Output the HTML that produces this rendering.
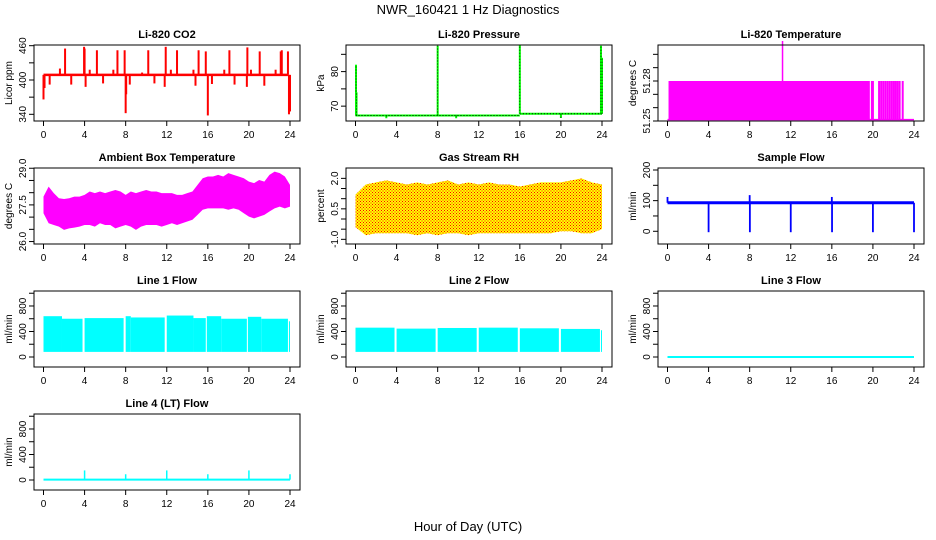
<!DOCTYPE html>
<html><head><meta charset="utf-8"><style>
body{margin:0;background:#fff;}
svg{display:block;font-family:"Liberation Sans",sans-serif;}
</style></head><body>
<svg id="chart" width="936" height="540" viewBox="0 0 936 540" xmlns="http://www.w3.org/2000/svg">
<defs>
<pattern id="rhdots" width="3" height="3" patternUnits="userSpaceOnUse"><rect x="0" y="0" width="1" height="1" fill="#f00"/><rect x="1.5" y="1.5" width="1" height="1" fill="#f00"/></pattern>
</defs>
<text x="468" y="14" font-size="13" text-anchor="middle">NWR_160421  1 Hz Diagnostics</text>
<text x="468" y="531" font-size="13" text-anchor="middle">Hour of Day (UTC)</text>
</svg>
<script>
const hourTicks=[0,4,8,12,16,20,24];
// CO2
const co2Base=409;
const co2SpikeHours=[2.1,3.95,4.0,5.2,7.2,7.9,10.2,11.9,13.0,15.1,15.8,18.1,19.85,21.05,23.1,23.2,23.8,1.6,4.5,6.8,9.6,12.4,14.6,17.6,20.2,22.6,0.0,0.1,0.6,2.7,4.1,5.8,8.0,8.05,8.4,10.8,11.8,14.8,16.0,16.4,18.6,19.8,21.5,23.9,24.0];
const co2SpikeValues=[455,458,455,452,452,452,452,458,452,452,450,452,457,450,450,452,450,420,418,418,413,418,418,418,418,418,366,386,392,392,388,394,342,375,392,394,388,390,338,393,392,388,390,340,345];
// Pressure
const presSegHours=[0,16,16,24];
const presSegValues=[67.3,67.3,67.8,67.8];
const presSpikeHours=[0.05,0.1,8.0,16.0,23.9,24.0,3.0,9.8,20.0];
const presSpikeValues=[82,74,87.5,87.7,87.5,84,66.5,66.5,66.6];
// Li-820 temperature
const tempBlockStart=0.1, tempBlockEnd=19.7, tempHigh=51.28, tempLow=51.251;
const tempStripeHours=[19.9,20.0,20.6,20.8,21.0,21.2,21.4,21.6,21.8,22.0,22.2,22.4,22.6,22.9];
const tempSpikeHour=11.2, tempSpikeValue=51.31;
// Ambient temperature envelope (half-hourly)
const ambHours=[0,0.5,1,1.5,2,2.5,3,3.5,4,4.5,5,5.5,6,6.5,7,7.5,8,8.5,9,9.5,10,10.5,11,11.5,12,12.5,13,13.5,14,14.5,15,15.5,16,16.5,17,17.5,18,18.5,19,19.5,20,20.5,21,21.5,22,22.5,23,23.5,24];
const ambUpper=[27.84,28.25,27.98,27.77,27.74,27.77,27.84,27.84,27.91,28.05,27.98,28.05,27.98,28.05,28.11,28.05,27.91,28.05,27.98,28.05,28.11,28.05,28.05,27.98,27.98,27.98,27.91,27.91,27.98,28.05,28.32,28.59,28.66,28.66,28.73,28.66,28.80,28.73,28.66,28.59,28.45,28.39,28.52,28.45,28.73,28.86,28.80,28.66,28.32];
const ambLower=[27.16,26.75,26.68,26.61,26.48,26.54,26.57,26.61,26.68,26.68,26.61,26.75,26.68,26.68,26.54,26.61,26.68,26.61,26.48,26.61,26.68,26.68,26.68,26.61,26.68,26.75,26.68,26.75,26.82,26.89,27.09,27.30,27.36,27.36,27.36,27.36,27.30,27.36,27.30,27.16,27.02,26.95,27.02,27.09,27.23,27.36,27.43,27.36,27.43];
// RH envelope (hourly)
const rhHours=[0,1,2,3,4,5,6,7,8,9,10,11,12,13,14,15,16,17,18,19,20,21,22,23,24];
const rhUpper=[1.2,1.7,1.8,1.9,1.8,1.7,1.8,1.7,1.8,1.9,1.7,1.8,1.7,1.8,1.7,1.7,1.6,1.7,1.8,1.8,1.8,1.9,2.0,1.8,1.7];
const rhLower=[-0.4,-0.8,-0.7,-0.7,-0.7,-0.7,-0.8,-0.7,-0.8,-0.7,-0.7,-0.8,-0.7,-0.7,-0.7,-0.7,-0.7,-0.7,-0.7,-0.7,-0.6,-0.6,-0.7,-0.7,-0.5];
// Sample flow
const sfBase=93;
const sfSpikeHours=[0,4,8,8.02,12,16,16.02,20,24];
const sfSpikeValues=[112,-3,118,-3,-3,112,-3,-3,-3];
// Line flows: segments [start,end,top]
const l1Start=[0,1.8,4.0,8.0,8.5,12.0,14.6,15.9,17.3,19.9,21.2,23.9];
const l1End=[1.8,3.8,7.8,8.5,11.8,14.6,15.8,17.3,19.8,21.2,23.8,24.0];
const l1Top=[640,600,610,640,620,650,610,640,600,630,600,560];
const l1Bottom=80;
const l2Start=[0,4.0,8.0,12.0,16.0,20.0,23.9];
const l2End=[3.8,7.8,11.8,15.8,19.8,23.8,24.0];
const l2Top=[460,445,455,460,450,440,420];
const l2Bottom=80;
const l3Value=0;
const l4Base=5;
const l4SpikeHours=[4,8,12,16,20,24];
const l4SpikeValues=[150,90,150,90,150,90];

const NS="http://www.w3.org/2000/svg";
const svg=document.getElementById('chart');
function el(tag,attrs,parent){const e=document.createElementNS(NS,tag);for(const k in attrs)e.setAttribute(k,attrs[k]);(parent||svg).appendChild(e);return e;}

function panel(col,row,title,ylab,ylo,yhi,ticks,labels,name){
  const x0=34+312*col,x1=x0+266,y0=45+123*row,y1=y0+76;
  const g=el('g',{});
  
  
  const X=h=>x0+9.5+h*(246.5/24);
  const Y=v=>y1-(v-ylo)/(yhi-ylo)*76;
  const t=el('text',{x:(x0+x1)/2,y:y0-7,'font-size':11,'font-weight':'bold','text-anchor':'middle'},g);t.textContent=title;
  
  
  const yt=el('text',{x:0,y:0,'font-size':10,'text-anchor':'middle',transform:`translate(${x0-22},${(y0+y1)/2}) rotate(-90)`},g);yt.textContent=ylab;
  
  
  const plot=el('g',{},g);
  
  
  const ax=el('g',{},g);
  
  
  el('rect',{x:x0,y:y0,width:x1-x0,height:y1-y0,fill:'none',stroke:'#000','stroke-width':1},ax);
  hourTicks.forEach(h=>{el('line',{x1:X(h),x2:X(h),y1:y1,y2:y1+5,stroke:'#000'},ax);const tx=el('text',{x:X(h),y:y1+17,'font-size':10,'text-anchor':'middle'},ax);tx.textContent=h;});
  ticks.forEach(v=>{el('line',{x1:x0,x2:x0-5,y1:Y(v),y2:Y(v),stroke:'#000'},ax);});
  labels.forEach(v=>{const tx=el('text',{x:0,y:0,'font-size':10,'text-anchor':'middle',transform:`translate(${x0-8},${Y(v)}) rotate(-90)`},ax);tx.textContent=v;});
  return {X,Y,plot};
}
function vline(p,h,a,b,c,w,name){const l=el('line',{x1:p.X(h),x2:p.X(h),y1:p.Y(a),y2:p.Y(b),stroke:c,'stroke-width':w||1.5},p.plot);return l;}
function hline(p,h1,h2,v,c,w,name){const l=el('line',{x1:p.X(h1),x2:p.X(h2),y1:p.Y(v),y2:p.Y(v),stroke:c,'stroke-width':w||2},p.plot);return l;}

// CO2
let p=panel(0,0,'Li-820 CO2','Licor ppm',328.3,461.2,[340,370,400,430,460],[340,400,460],'co2');
hline(p,0,23.8,co2Base,'#f00',2.5,'co2-baseline');
co2SpikeHours.forEach((h,i)=>vline(p,h,co2Base,co2SpikeValues[i],'#f00',2,'co2-spike'));
// Pressure
p=panel(1,0,'Li-820 Pressure','kPa',65.7,87.7,[70,75,80,85],[70,80],'pressure');
hline(p,presSegHours[0],presSegHours[1],presSegValues[0],'#0f0',2,'pressure-line');
hline(p,presSegHours[2],presSegHours[3],presSegValues[2],'#0f0',2,'pressure-line');
hline(p,presSegHours[0],presSegHours[1],presSegValues[0],'#000',1,'pressure-dots').setAttribute('stroke-dasharray','1 2');
hline(p,presSegHours[2],presSegHours[3],presSegValues[2],'#000',1,'pressure-dots').setAttribute('stroke-dasharray','1 2');
presSpikeHours.forEach((h,i)=>{const b=h<16?presSegValues[0]:presSegValues[2];vline(p,h,b,presSpikeValues[i],'#0f0',2,'pressure-spike');vline(p,h,b,presSpikeValues[i],'#000',0.8,'pressure-spike-dots').setAttribute('stroke-dasharray','1 2');});
// Li-820 temp
p=panel(2,0,'Li-820 Temperature','degrees C',51.25,51.307,[51.25,51.26,51.27,51.28,51.29,51.30],[51.25,51.28],'li820-temp');
{const r=el('rect',{x:p.X(tempBlockStart),y:p.Y(tempHigh),width:p.X(tempBlockEnd)-p.X(tempBlockStart),height:p.Y(tempLow)-p.Y(tempHigh),fill:'#f0f'},p.plot);

}
hline(p,0,24,tempLow,'#f0f',1.5,'li820-temp-baseline');
tempStripeHours.forEach(h=>vline(p,h,tempLow,tempHigh,'#f0f',2,'li820-temp-stripe'));
vline(p,tempSpikeHour,tempHigh,tempSpikeValue,'#f0f',1.5,'li820-temp-spike');
// Ambient
p=panel(0,1,'Ambient Box Temperature','degrees C',25.9,29.01,[26,26.5,27,27.5,28,28.5,29],['26.0','27.5','29.0'],'ambient-temp');
{let pts=ambHours.map((h,i)=>p.X(h)+','+p.Y(ambUpper[i]));pts=pts.concat(ambHours.map((h,i)=>p.X(h)+','+p.Y(ambLower[i])).reverse());
const pg=el('polygon',{points:pts.join(' '),fill:'#f0f'},p.plot);

}
// RH
p=panel(1,1,'Gas Stream RH','percent',-1.23,2.51,[-1,-0.5,0,0.5,1,1.5,2],['-1.0','0.5','2.0'],'rh');
{let pts=rhHours.map((h,i)=>p.X(h)+','+p.Y(rhUpper[i]));pts=pts.concat(rhHours.map((h,i)=>p.X(h)+','+p.Y(rhLower[i])).reverse());
const a=el('polygon',{points:pts.join(' '),fill:'#ff0'},p.plot);


const b=el('polygon',{points:pts.join(' '),fill:'url(#rhdots)'},p.plot);

}
// Sample flow
p=panel(2,1,'Sample Flow','ml/min',-41.5,206.5,[0,50,100,150,200],[0,100,200],'sample-flow');
hline(p,0,24,sfBase,'#00f',3,'sample-flow-line');
sfSpikeHours.forEach((h,i)=>vline(p,h,sfBase,sfSpikeValues[i],'#00f',1.8,'sample-flow-spike'));
// Line flows
const flowTicks=[0,200,400,600,800,1000],flowLabels=[0,400,800];
p=panel(0,2,'Line 1 Flow','ml/min',-157,1035,flowTicks,flowLabels,'line1-flow');
l1Start.forEach((s,i)=>{const r=el('rect',{x:p.X(s),y:p.Y(l1Top[i]),width:Math.max(1,p.X(l1End[i])-p.X(s)),height:p.Y(l1Bottom)-p.Y(l1Top[i]),fill:'#0ff'},p.plot);

});
p=panel(1,2,'Line 2 Flow','ml/min',-157,1035,flowTicks,flowLabels,'line2-flow');
l2Start.forEach((s,i)=>{const r=el('rect',{x:p.X(s),y:p.Y(l2Top[i]),width:Math.max(1,p.X(l2End[i])-p.X(s)),height:p.Y(l2Bottom)-p.Y(l2Top[i]),fill:'#0ff'},p.plot);

});
p=panel(2,2,'Line 3 Flow','ml/min',-157,1035,flowTicks,flowLabels,'line3-flow');
hline(p,0,24,l3Value,'#0ff',2,'line3-flow-line');
p=panel(0,3,'Line 4 (LT) Flow','ml/min',-157,1035,flowTicks,flowLabels,'line4-flow');
hline(p,0,24,l4Base,'#0ff',2,'line4-flow-line');
l4SpikeHours.forEach((h,i)=>vline(p,h,l4Base,l4SpikeValues[i],'#0ff',1.5,'line4-flow-spike'));
</script>
</body></html>
